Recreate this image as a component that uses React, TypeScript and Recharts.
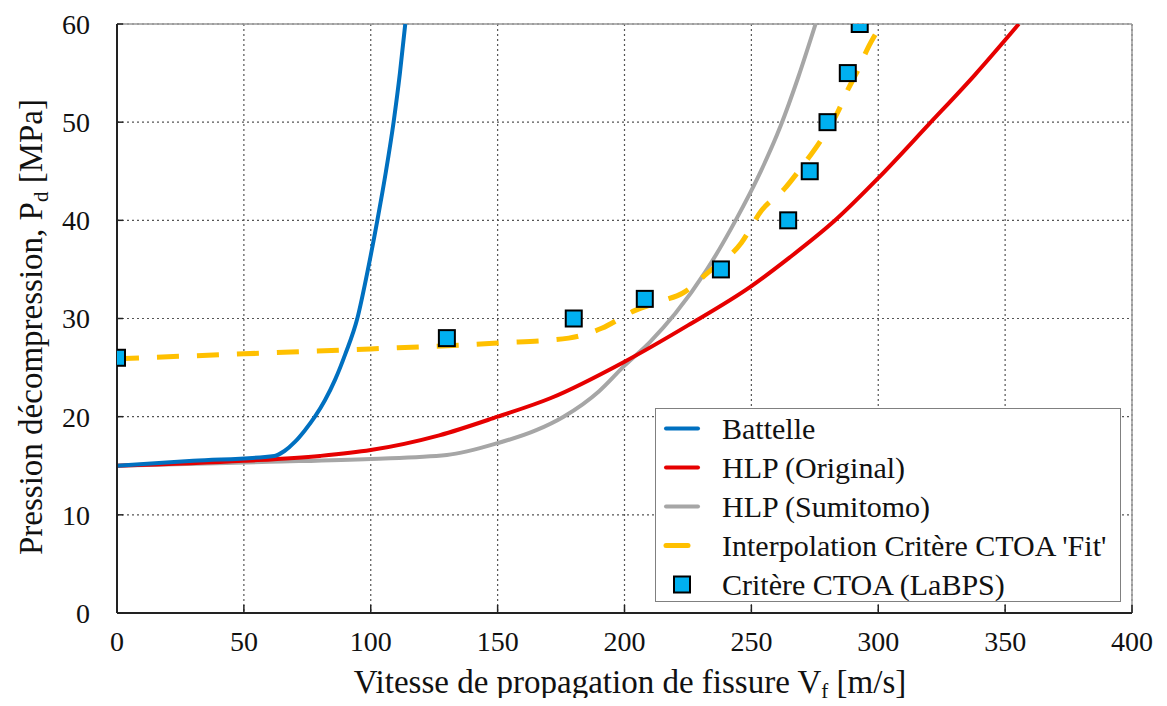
import React from 'react';
import { ComposedChart, Line, Scatter, XAxis, YAxis, CartesianGrid, ReferenceLine, Label } from 'recharts';

const battelleV = [0, 30, 62, 66, 70, 74, 78, 82, 86, 90, 94.7, 98.5, 102.6, 106, 109, 111.5, 113.6];
const battelleP = [15, 15.5, 16, 16.5, 17.4, 18.6, 20, 21.7, 23.8, 26.4, 30, 34.5, 40, 45, 50, 55, 60];

const hlpOrigV = [0, 50, 80, 100, 127, 150, 171, 200, 225, 250, 265, 283, 300, 320, 338, 355.4];
const hlpOrigP = [15, 15.5, 16, 16.6, 18.1, 20, 21.9, 25.6, 29.3, 33.3, 36.2, 40, 44.3, 49.8, 54.8, 60];

const hlpSumiV = [0, 60, 100, 130, 150, 165, 176, 190, 200, 210, 220, 232, 243.8, 253, 261.5, 268.5, 275.3];
const hlpSumiP = [15, 15.4, 15.7, 16.1, 17.3, 18.6, 20, 22.6, 25.2, 27.6, 30.5, 34.8, 40, 44.6, 49.6, 54.6, 60];

const fitV = [0, 50, 100, 150, 178, 191, 204, 215, 223, 233, 246, 254, 263, 270, 277, 284, 288, 292, 296, 299];
const fitP = [25.9, 26.4, 26.9, 27.5, 28, 29, 30.8, 31.8, 32.6, 34.7, 37.7, 41, 43.2, 45.5, 48, 51, 53.3, 55.3, 57.6, 59];

const ctoaV = [0, 130, 180, 208, 238, 264.5, 273, 280, 288, 292.7];
const ctoaP = [26, 28, 30, 32, 35, 40, 45, 50, 55, 60];

const xTicks = [0, 50, 100, 150, 200, 250, 300, 350, 400];
const yTicks = [0, 10, 20, 30, 40, 50, 60];

const legendLabels = ['Battelle', 'HLP (Original)', 'HLP (Sumitomo)', "Interpolation Critère CTOA 'Fit'", 'Critère CTOA (LaBPS)'];

const zip = (xs: number[], ys: number[]) => xs.map((x, i) => ({ x, y: ys[i] }));

const battelle = zip(battelleV, battelleP);
const hlpOrig = zip(hlpOrigV, hlpOrigP);
const hlpSumi = zip(hlpSumiV, hlpSumiP);
const fit = zip(fitV, fitP);
const ctoa = zip(ctoaV, ctoaP);

const FONT = '"Liberation Serif", "Times New Roman", serif';
const BLUE = '#0070C0';
const RED = '#E60000';
const GRAY = '#A6A6A6';
const GOLD = '#FFC000';
const CYAN = '#00B0F0';

const SquareShape = (props: any) => {
  const { cx, cy } = props;
  if (cx == null || cy == null) return null;
  return <rect x={cx - 8} y={cy - 8} width={16} height={16} fill={CYAN} stroke="#000" strokeWidth={2} />;
};

const LegendBox = () => {
  const rowH = 39;
  return (
    <div
      style={{
        position: 'absolute',
        left: 647,
        top: 400,
        width: 466,
        height: 194,
        border: '1.5px solid #808080',
        background: '#fff',
        fontFamily: FONT,
        fontSize: 30,
        color: '#111',
        boxSizing: 'border-box',
        lineHeight: 1,
      }}
    >
      {legendLabels.map((lab, i) => (
        <div key={lab} style={{ height: rowH, display: 'flex', alignItems: 'center' }}>
          <svg width={66} height={rowH} style={{ flex: 'none' }}>
            {i === 0 && <line x1={10} x2={42} y1={rowH / 2} y2={rowH / 2} stroke={BLUE} strokeWidth={4} strokeLinecap="round" />}
            {i === 1 && <line x1={10} x2={42} y1={rowH / 2} y2={rowH / 2} stroke={RED} strokeWidth={4} strokeLinecap="round" />}
            {i === 2 && <line x1={10} x2={42} y1={rowH / 2} y2={rowH / 2} stroke={GRAY} strokeWidth={4} strokeLinecap="round" />}
            {i === 3 && <line x1={10} x2={32} y1={rowH / 2} y2={rowH / 2} stroke={GOLD} strokeWidth={5} strokeLinecap="round" />}
            {i === 4 && <rect x={18} y={rowH / 2 - 8} width={16} height={16} fill={CYAN} stroke="#000" strokeWidth={2} />}
          </svg>
          <span style={{ whiteSpace: 'nowrap' }}>{lab}</span>
        </div>
      ))}
    </div>
  );
};

export default function App() {
  return (
    <div style={{ position: 'relative', width: 1151, height: 690, background: '#fff' }}>
      <ComposedChart width={1151} height={698} margin={{ top: 16, right: 27, left: 29, bottom: 33 }}>
        <CartesianGrid stroke="#555" strokeDasharray="2 3" strokeWidth={1.2} />
        <XAxis
          type="number"
          dataKey="x"
          domain={[0, 400]}
          ticks={xTicks}
          allowDataOverflow
          height={60}
          tickSize={-8}
          tickMargin={26}
          tickLine={{ stroke: '#222', strokeWidth: 1.5 }}
          axisLine={{ stroke: '#222', strokeWidth: 2 }}
          tick={{ fill: '#111', fontSize: 28, fontFamily: FONT }}
        >
          <Label
            content={() => (
              <text x={622} y={685} textAnchor="middle" fontFamily={FONT} fontSize={33} fill="#111">
                Vitesse de propagation de fissure V<tspan fontSize={21} dy={5}>f</tspan>
                <tspan dy={-5}>{'  [m/s]'}</tspan>
              </text>
            )}
          />
        </XAxis>
        <YAxis
          type="number"
          dataKey="y"
          domain={[0, 60]}
          ticks={yTicks}
          allowDataOverflow
          width={80}
          tickSize={-6}
          tickMargin={33}
          tickLine={{ stroke: '#222', strokeWidth: 1.5 }}
          axisLine={{ stroke: '#222', strokeWidth: 2 }}
          tick={{ fill: '#111', fontSize: 28, fontFamily: FONT }}
        >
          <Label
            content={() => (
              <text
                x={34}
                y={319}
                transform="rotate(-90 34 319)"
                textAnchor="middle"
                fontFamily={FONT}
                fontSize={33}
                fill="#111"
              >
                Pression décompression,  P<tspan fontSize={21} dy={6}>d</tspan>
                <tspan dy={-6}>{' [MPa]'}</tspan>
              </text>
            )}
          />
        </YAxis>
        <ReferenceLine y={60} stroke="#999" strokeWidth={1.5} />
        <ReferenceLine x={400} stroke="#999" strokeWidth={1.5} />
        <Line data={hlpSumi} dataKey="y" type="monotone" stroke={GRAY} strokeWidth={4} dot={false} isAnimationActive={false} name="HLP (Sumitomo)" />
        <Line data={hlpOrig} dataKey="y" type="monotone" stroke={RED} strokeWidth={4} dot={false} isAnimationActive={false} name="HLP (Original)" />
        <Line data={battelle} dataKey="y" type="monotone" stroke={BLUE} strokeWidth={4} dot={false} isAnimationActive={false} name="Battelle" />
        <Line data={fit} dataKey="y" type="monotone" stroke={GOLD} strokeWidth={5} strokeDasharray="22 18" dot={false} isAnimationActive={false} name="Fit" />
        <Scatter data={ctoa} dataKey="y" shape={SquareShape} isAnimationActive={false} name="CTOA" />
      </ComposedChart>
      <LegendBox />
    </div>
  );
}
